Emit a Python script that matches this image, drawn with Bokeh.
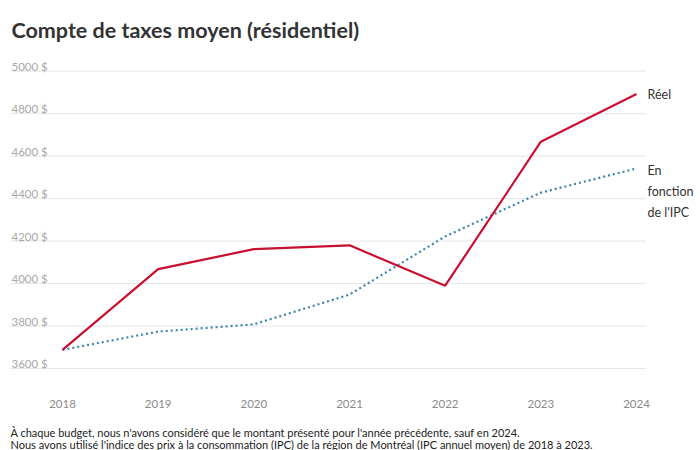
from bokeh.plotting import figure
from bokeh.models import Range1d
from bokeh.core.properties import value
from bokeh.embed import file_html
from bokeh.resources import INLINE

years = [2018, 2019, 2020, 2021, 2022, 2023, 2024]
reel = [3688, 4068, 4162, 4180, 3990, 4668, 4892]
ipc = [3688, 3774, 3808, 3948, 4222, 4428, 4542]
y_ticks = [3600, 3800, 4000, 4200, 4400, 4600, 4800, 5000]
y_tick_labels = ["3600 $", "3800 $", "4000 $", "4200 $", "4400 $", "4600 $", "4800 $", "5000 $"]
year_labels = ["2018", "2019", "2020", "2021", "2022", "2023", "2024"]

title_text = "Compte de taxes moyen (résidentiel)"
note1 = "À chaque budget, nous n'avons considéré que le montant présenté pour l'année précédente, sauf en 2024."
note2 = "Nous avons utilisé l'indice des prix à la consommation (IPC) de la région de Montréal (IPC annuel moyen) de 2018 à 2023."

W, H = 700, 450
# pixel layout (canvas coordinates)
ypx = 0.2125          # px per dollar
xpx = 95.67           # px per year
Y_TOP_PX = 70.7       # 5000 gridline
Y_BOT_PX = 368.0      # 3600 gridline
X_FIRST_PX = 62.0     # 2018

y1 = 5000 + Y_TOP_PX / ypx
y0 = 3600 - (H - Y_BOT_PX) / ypx
x0 = 2018 - X_FIRST_PX / xpx
x1 = x0 + W / xpx


def px_x(px):
    return x0 + px / xpx


def px_y(py):
    return y1 - py / ypx


p = figure(width=W, height=H, output_backend="svg", toolbar_location=None,
           x_range=Range1d(x0, x1), y_range=Range1d(y0, y1),
           x_axis_location=None, y_axis_location=None,
           min_border=0, min_border_left=0, min_border_right=0,
           min_border_top=0, min_border_bottom=0)
p.outline_line_color = None
p.background_fill_color = "white"
p.border_fill_color = "white"
p.grid.visible = False

FONT = value("Lato")

# horizontal gridlines
p.segment(x0=[px_x(10)] * len(y_ticks), x1=[px_x(645)] * len(y_ticks), y0=y_ticks, y1=y_ticks,
          line_color="#e6e6e6", line_width=1)

# y tick labels (above gridlines)
p.text(x=[px_x(11)] * len(y_ticks), y=[t + 5 / ypx for t in y_ticks], text=y_tick_labels,
       text_font=FONT, text_font_size="11.5px", text_color="#a8a8a8",
       text_baseline="alphabetic", text_align="left")

# x labels
p.text(x=years, y=[px_y(404)] * len(years), text=year_labels, text_font=FONT,
       text_font_size="11.5px", text_color="#8a8a8a", text_baseline="middle", text_align="center")

# lines
p.line(years, ipc, line_color="#3b86ad", line_width=2.2, line_dash="2 3")
p.line(years, reel, line_color="#c8102e", line_width=2.2)

# end labels
p.text(x=[years[-1] + 11 / xpx], y=[reel[-1]], text=["Réel"], text_font=FONT,
       text_font_size="12.5px", text_color="#333333", text_baseline="middle", text_align="left")
p.text(x=[years[-1] + 11 / xpx], y=[ipc[-1] + 5 / ypx], text=["En\nfonction\nde l'IPC"], text_font=FONT,
       text_font_size="12.5px", text_color="#333333", text_baseline="top", text_align="left",
       text_line_height=1.4)

# title
p.text(x=[px_x(11)], y=[px_y(30)], text=[title_text], text_font=FONT, text_font_size="21.5px",
       text_font_style="bold", text_color="#333333", text_baseline="middle", text_align="left")

# footnotes
p.text(x=[px_x(10)], y=[px_y(432)], text=[note1], text_font=FONT, text_font_size="11px",
       text_color="#222222", text_baseline="middle", text_align="left")
p.text(x=[px_x(10)], y=[px_y(444)], text=[note2], text_font=FONT, text_font_size="11px",
       text_color="#222222", text_baseline="middle", text_align="left")

open("out.html", "w").write(file_html(p, INLINE))
